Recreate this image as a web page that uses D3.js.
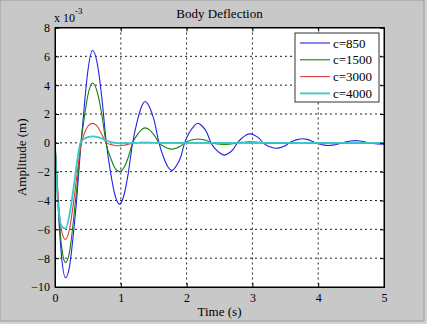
<!DOCTYPE html>
<html>
<head>
<meta charset="utf-8">
<script src="https://cdn.jsdelivr.net/npm/d3@7"></script>
<style>
  body { margin: 0; background: #c8c8c8; }
  text { font-family: "Liberation Serif", "Times New Roman", serif; fill: #000; }
</style>
</head>
<body>
<div id="chart"></div>
<script>
// time (s) and body deflection (x 1e-3 m)
let time = [0, 0.03, 0.06, 0.1, 0.16, 0.22, 0.28, 0.33, 0.39, 0.45, 0.5, 0.57, 0.65, 0.71, 0.78, 0.85, 0.91, 0.98, 1.05, 1.11,
    1.18, 1.25, 1.31, 1.37, 1.44, 1.51, 1.58, 1.65, 1.71, 1.78, 1.84, 1.91, 1.97, 2.04, 2.11, 2.17, 2.24, 2.31, 2.37, 2.44,
    2.51, 2.57, 2.64, 2.71, 2.77, 2.84, 2.9, 2.96, 3.03, 3.1, 3.16, 3.23, 3.3, 3.37, 3.43, 3.5, 3.56, 3.63, 3.7, 3.76,
    3.83, 3.89, 3.96, 4.03, 4.09, 4.15, 4.22, 4.29, 4.36, 4.43, 4.5, 4.56, 4.63, 4.7, 4.76, 4.83, 4.9, 5.0];

let c850 = [0, -2.8, -5.4, -7.9, -9.35, -8.6, -6.3, -3.9, -0.3, 2.8, 5.0, 6.4, 5.3, 3.2, 0, -2.2, -3.6, -4.25, -3.6, -2.2,
    0, 1.5, 2.45, 2.87, 2.45, 1.5, 0, -1.0, -1.62, -1.91, -1.62, -1.0, 0, 0.7, 1.15, 1.36, 1.15, 0.7, 0, -0.44,
    -0.72, -0.85, -0.72, -0.44, 0, 0.32, 0.53, 0.62, 0.53, 0.32, 0, -0.2, -0.32, -0.38, -0.32, -0.2, 0, 0.15, 0.24, 0.28,
    0.24, 0.15, 0, -0.1, -0.16, -0.19, -0.16, -0.1, 0, 0.08, 0.13, 0.15, 0.13, 0.08, 0, -0.05, -0.08, -0.09];

let c1500 = [0, -2.6, -5.0, -7.2, -8.3, -7.6, -5.4, -3.2, -0.2, 1.9, 3.3, 4.15, 3.4, 2.0, -0.1, -1.1, -1.75, -2.0, -1.7, -1.05,
    0, 0.55, 0.9, 1.04, 0.88, 0.52, 0, -0.24, -0.38, -0.44, -0.37, -0.22, 0, 0.14, 0.23, 0.27, 0.23, 0.14, 0, -0.06,
    -0.1, -0.11, -0.1, -0.06, 0, 0.04, 0.06, 0.07, 0.06, 0.04, 0, -0.02, -0.03, -0.03, -0.03, -0.02, 0, 0.01, 0.02, 0.02,
    0.02, 0.01, 0, 0, 0, 0, 0, 0, 0, 0, 0, 0, 0, 0, 0, 0, 0, 0];

let c3000 = [0, -2.4, -4.5, -6.1, -6.7, -6.0, -4.2, -2.4, -0.3, 0.7, 1.15, 1.35, 1.1, 0.6, 0, -0.12, -0.18, -0.2, -0.17, -0.1,
    -0.02, 0.02, 0.04, 0.04, 0.03, 0.01, 0, 0, 0, 0, 0, 0, 0, 0, 0, 0, 0, 0, 0, 0,
    0, 0, 0, 0, 0, 0, 0, 0, 0, 0, 0, 0, 0, 0, 0, 0, 0, 0, 0, 0,
    0, 0, 0, 0, 0, 0, 0, 0, 0, 0, 0, 0, 0, 0, 0, 0, 0, 0];

let c4000 = [0, -3.3, -4.9, -5.8, -5.95, -5.0, -3.2, -1.5, 0.05, 0.3, 0.4, 0.45, 0.4, 0.3, 0.15, 0.05, 0, -0.03, -0.03, -0.02,
    0, 0, 0, 0, 0, 0, 0, 0, 0, 0, 0, 0, 0, 0, 0, 0, 0, 0, 0, 0,
    0, 0, 0, 0, 0, 0, 0, 0, 0, 0, 0, 0, 0, 0, 0, 0, 0, 0, 0, 0,
    0, 0, 0, 0, 0, 0, 0, 0, 0, 0, 0, 0, 0, 0, 0, 0, 0, 0];

let seriesNames = ["c=850", "c=1500", "c=3000", "c=4000"];
let seriesColors = ["#2323e6", "#108010", "#e03a3a", "#3cc8c8"];
let seriesWidths = [1.1, 1.1, 1.1, 1.8];
let xTicks = [0, 1, 2, 3, 4, 5];
let yTicks = [-10, -8, -6, -4, -2, 0, 2, 4, 6, 8];

let series = [c850, c1500, c3000, c4000].map(function (vals, i) {
    return {
        name: seriesNames[i], color: seriesColors[i], width: seriesWidths[i],
        values: time.map(function (t, j) { return {t: t, v: vals[j]}; })
    };
});

let W = 427, H = 324;
let margin = {top: 27.5, right: 43, bottom: 37, left: 55};
let width = W - margin.left - margin.right;
let height = H - margin.top - margin.bottom;

let svg = d3.select("#chart").append("svg")
    .attr("width", W)
    .attr("height", H);

// figure background with thin frame
svg.append("rect").attr("width", W).attr("height", H).attr("fill", "#d2d2d2");
svg.append("rect").attr("width", 424).attr("height", 321).attr("fill", "#c8c8c8")
    .attr("stroke", "#9a9a9a").attr("stroke-width", 1);

let g = svg.append("g")
    .attr("transform", "translate(" + margin.left + "," + margin.top + ")");

let x = d3.scaleLinear().domain([0, 5]).range([0, width]);
let y = d3.scaleLinear().domain([-10, 8]).range([height, 0]);

g.append("rect").attr("width", width).attr("height", height).attr("fill", "#fff");

// dotted grid
g.selectAll(".vgrid").data(xTicks.slice(1, -1)).enter().append("line")
    .attr("x1", function (d) { return x(d); }).attr("x2", function (d) { return x(d); })
    .attr("y1", 0).attr("y2", height)
    .attr("stroke", "#222").attr("stroke-width", 1).attr("stroke-dasharray", "2,3");
g.selectAll(".hgrid").data(yTicks.slice(1, -1)).enter().append("line")
    .attr("x1", 0).attr("x2", width)
    .attr("y1", function (d) { return y(d); }).attr("y2", function (d) { return y(d); })
    .attr("stroke", "#222").attr("stroke-width", 1).attr("stroke-dasharray", "2,3");

g.append("clipPath").attr("id", "clip").append("rect")
    .attr("width", width).attr("height", height);

let line = d3.line()
    .curve(d3.curveMonotoneX)
    .x(function (d) { return x(d.t); })
    .y(function (d) { return y(d.v); });

g.append("g").attr("clip-path", "url(#clip)")
    .selectAll("path").data(series).enter().append("path")
    .attr("fill", "none")
    .attr("stroke", function (d) { return d.color; })
    .attr("stroke-width", function (d) { return d.width; })
    .attr("d", function (d) { return line(d.values); });

// axes, ticks pointing inward on all four sides
let bottom = g.append("g").attr("transform", "translate(0," + height + ")")
    .call(d3.axisBottom(x).tickValues(xTicks).tickSize(-4).tickPadding(6).tickFormat(d3.format("d")));
let left = g.append("g")
    .call(d3.axisLeft(y).tickValues(yTicks).tickSize(-4).tickPadding(5).tickFormat(d3.format("d")));
g.append("g").call(d3.axisTop(x).tickValues(xTicks).tickSize(-4).tickFormat(""));
g.append("g").attr("transform", "translate(" + width + ",0)")
    .call(d3.axisRight(y).tickValues(yTicks).tickSize(-4).tickFormat(""));

g.selectAll(".domain").attr("stroke", "#000");
g.selectAll(".tick line").attr("stroke", "#000");
g.selectAll(".tick text").style("font-size", "12px").style("font-family", "Liberation Serif");

g.append("rect").attr("width", width).attr("height", height)
    .attr("fill", "none").attr("stroke", "#000").attr("stroke-width", 1);

// exponent label
let expo = svg.append("text").attr("x", 54).attr("y", 22).style("font-size", "12px");
expo.append("tspan").text("x 10");
expo.append("tspan").attr("dy", -8).style("font-size", "9px").text("-3");

svg.append("text").attr("x", margin.left + width / 2).attr("y", 18)
    .attr("text-anchor", "middle").style("font-size", "13px").text("Body Deflection");

svg.append("text").attr("x", margin.left + width / 2).attr("y", 316)
    .attr("text-anchor", "middle").style("font-size", "13px").text("Time (s)");

svg.append("text")
    .attr("transform", "translate(26," + (margin.top + height / 2) + ") rotate(-90)")
    .attr("text-anchor", "middle").style("font-size", "13px").text("Amplitude (m)");

// legend
let legend = svg.append("g").attr("transform", "translate(295,33)");
legend.append("rect").attr("width", 84).attr("height", 69)
    .attr("fill", "#fff").attr("stroke", "#333").attr("stroke-width", 1);
let rows = legend.selectAll(".row").data(series).enter().append("g")
    .attr("transform", function (d, i) { return "translate(0," + (10 + i * 16.8) + ")"; });
rows.append("line").attr("x1", 5).attr("x2", 35).attr("y1", 0).attr("y2", 0)
    .attr("stroke", function (d) { return d.color; })
    .attr("stroke-width", function (d) { return d.width; });
rows.append("text").attr("x", 38).attr("dy", "0.35em").style("font-size", "13px")
    .text(function (d) { return d.name; });
</script>
</body>
</html>
